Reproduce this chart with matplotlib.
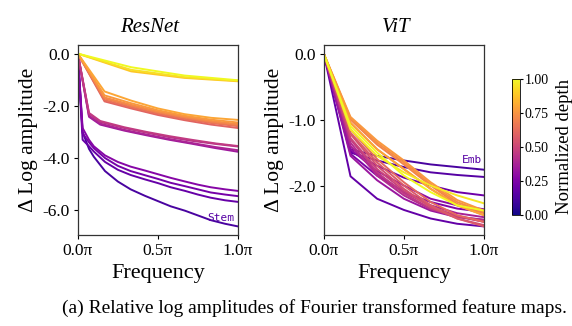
import numpy as np
import matplotlib.pyplot as plt
from matplotlib import cm
from matplotlib.colors import Normalize

plt.rcParams['font.family'] = ['Liberation Serif', 'DejaVu Serif']

# ResNet: frequency grids per stage (feature map resolution shrinks with depth)
f_stage1 = [0, 0.03, 0.07, 0.10, 0.17, 0.25, 0.33, 0.42, 0.50, 0.58, 0.67, 0.75, 0.83, 0.92, 1.0]
f_stage2 = [0, 0.07, 0.14, 0.29, 0.43, 0.57, 0.71, 0.86, 1.0]
f_stage3 = [0, 0.167, 0.333, 0.5, 0.667, 0.833, 1.0]
f_stage4 = [0, 0.333, 0.667, 1.0]

resnet_depth = [0.12, 0.19, 0.23, 0.27,
                0.34, 0.38, 0.42, 0.46,
                0.60, 0.64, 0.68, 0.72, 0.76, 0.80,
                0.88, 0.94, 1.00]
resnet_freq = [f_stage1] * 4 + [f_stage2] * 4 + [f_stage3] * 6 + [f_stage4] * 3
resnet_amp = [
    [0, -3.00, -3.65, -3.95, -4.50, -4.90, -5.20, -5.45, -5.65, -5.85, -6.02, -6.20, -6.38, -6.52, -6.62],
    [0, -3.30, -3.55, -3.75, -4.15, -4.45, -4.65, -4.82, -4.96, -5.12, -5.26, -5.40, -5.52, -5.62, -5.68],
    [0, -3.05, -3.40, -3.62, -4.00, -4.30, -4.50, -4.66, -4.80, -4.95, -5.08, -5.20, -5.32, -5.40, -5.46],
    [0, -2.85, -3.30, -3.55, -3.90, -4.15, -4.33, -4.48, -4.62, -4.76, -4.90, -5.02, -5.12, -5.20, -5.26],
    [0, -2.42, -2.72, -2.95, -3.13, -3.30, -3.45, -3.62, -3.76],
    [0, -2.38, -2.68, -2.92, -3.10, -3.27, -3.42, -3.58, -3.70],
    [0, -2.30, -2.62, -2.85, -3.03, -3.20, -3.34, -3.46, -3.56],
    [0, -2.27, -2.58, -2.82, -3.00, -3.16, -3.30, -3.44, -3.54],
    [0, -1.83, -2.10, -2.35, -2.55, -2.72, -2.85],
    [0, -1.78, -2.05, -2.30, -2.50, -2.66, -2.78],
    [0, -1.72, -2.00, -2.25, -2.45, -2.62, -2.74],
    [0, -1.68, -1.96, -2.22, -2.42, -2.58, -2.70],
    [0, -1.60, -1.90, -2.17, -2.38, -2.53, -2.64],
    [0, -1.45, -1.80, -2.10, -2.32, -2.46, -2.54],
    [0, -0.68, -0.93, -1.06],
    [0, -0.62, -0.90, -1.04],
    [0, -0.52, -0.84, -1.02],
]

# ViT: embedding + blocks, all on the same frequency grid
vit_freq = [0, 0.167, 0.333, 0.5, 0.667, 0.833, 1.0]
vit_depth = [0.12, 0.15, 0.18, 0.21, 0.25, 0.29, 0.33, 0.37, 0.41, 0.45, 0.49,
             0.53, 0.57, 0.61, 0.66, 0.70, 0.73, 0.76, 0.80, 0.96, 1.00]
vit_amp = [
    [0, -1.45, -1.55, -1.62, -1.68, -1.72, -1.76],
    [0, -1.50, -1.62, -1.72, -1.80, -1.84, -1.87],
    [0, -1.86, -2.20, -2.37, -2.50, -2.58, -2.62],
    [0, -1.48, -1.70, -1.88, -2.00, -2.10, -2.15],
    [0, -1.52, -1.85, -2.10, -2.25, -2.35, -2.40],
    [0, -1.45, -1.78, -2.00, -2.20, -2.30, -2.36],
    [0, -1.55, -1.92, -2.20, -2.38, -2.48, -2.52],
    [0, -1.40, -1.82, -2.10, -2.30, -2.42, -2.48],
    [0, -1.35, -1.85, -2.15, -2.36, -2.47, -2.52],
    [0, -1.30, -1.80, -2.12, -2.35, -2.47, -2.55],
    [0, -1.28, -1.75, -2.08, -2.32, -2.46, -2.55],
    [0, -1.22, -1.70, -2.05, -2.33, -2.50, -2.60],
    [0, -1.20, -1.65, -2.00, -2.30, -2.50, -2.62],
    [0, -1.15, -1.60, -1.95, -2.25, -2.45, -2.55],
    [0, -1.05, -1.45, -1.75, -2.05, -2.30, -2.45],
    [0, -1.00, -1.38, -1.68, -2.00, -2.28, -2.42],
    [0, -0.98, -1.35, -1.65, -1.98, -2.25, -2.40],
    [0, -0.96, -1.32, -1.62, -1.95, -2.22, -2.38],
    [0, -1.05, -1.45, -1.75, -2.05, -2.30, -2.45],
    [0, -1.15, -1.55, -1.80, -2.00, -2.15, -2.27],
    [0, -1.10, -1.50, -1.85, -2.10, -2.30, -2.38],
]

cmap = plt.get_cmap('plasma')
norm = Normalize(0, 1)

fig = plt.figure(figsize=(5.72, 3.26), dpi=100)
ax1 = fig.add_axes([0.136, 0.279, 0.280, 0.583])
ax2 = fig.add_axes([0.566, 0.279, 0.280, 0.583])
cax = fig.add_axes([0.895, 0.340, 0.0146, 0.419])

for d, f, a in zip(resnet_depth, resnet_freq, resnet_amp):
    ax1.plot(f, a, color=cmap(norm(d)), lw=1.4)
for d, a in zip(vit_depth, vit_amp):
    ax2.plot(vit_freq, a, color=cmap(norm(d)), lw=1.4)

ax1.set_yticks([0, -2, -4, -6])
ax1.set_yticklabels(['0.0', '-2.0', '-4.0', '-6.0'])
ax2.set_yticks([0, -1, -2])
ax2.set_yticklabels(['0.0', '-1.0', '-2.0'])

for ax, title in [(ax1, 'ResNet'), (ax2, 'ViT')]:
    ax.set_xlim(0, 1)
    ax.set_xticks([0, 0.5, 1])
    ax.set_xticklabels(['0.0π', '0.5π', '1.0π'])
    ax.set_xlabel('Frequency', fontsize=16, labelpad=3)
    ax.set_ylabel('Δ Log amplitude', fontsize=15.5, labelpad=3)
    ax.set_title(title, fontsize=15, style='italic', pad=9, x=0.45)
    ax.tick_params(labelsize=12.5, length=3, width=0.8, pad=3)
    for s in ax.spines.values():
        s.set_linewidth(0.9)
        s.set_color('#333333')

ax1.text(0.98, -6.29, 'Stem', family='DejaVu Sans Mono', fontsize=8,
         color=cmap(0.15), ha='right', va='center')
ax2.text(0.99, -1.61, 'Emb', family='DejaVu Sans Mono', fontsize=8,
         color=cmap(0.15), ha='right', va='center')

cb = fig.colorbar(cm.ScalarMappable(norm=norm, cmap=cmap), cax=cax)
cb.set_ticks([0, 0.25, 0.5, 0.75, 1.0])
cb.set_ticklabels(['0.00', '0.25', '0.50', '0.75', '1.00'])
cb.ax.tick_params(labelsize=10, length=2, pad=1)
cb.set_label('Normalized depth', fontsize=13.5, labelpad=5)
cb.outline.set_linewidth(0.6)

fig.text(0.549, 0.055, '(a) Relative log amplitudes of Fourier transformed feature maps.',
         ha='center', va='center', fontsize=14)

fig.savefig('out.png', dpi=100)
